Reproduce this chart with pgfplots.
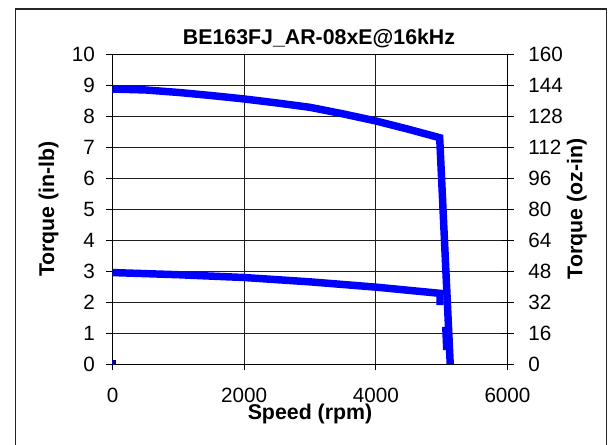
\documentclass[border=0pt]{standalone}
\usepackage{fontspec}
\setmainfont{Liberation Sans}
\usepackage{pgfplots}
\pgfplotsset{compat=1.18}
\definecolor{gridc}{RGB}{30,30,30}
\definecolor{curve}{RGB}{0,0,255}
\definecolor{dotc}{RGB}{0,0,140}
\begin{document}
\begin{tikzpicture}
\path[use as bounding box] (-84.375pt,-60pt) rectangle (371.625pt,273pt);
\draw[line width=0.9pt, black!85] (-72.7pt,-80pt) rectangle (370.4pt,266.25pt);
\pgfplotsset{
  base/.style={
    at={(0pt,0pt)}, anchor=south west,
    scale only axis, width=296.25pt, height=232.5pt,
    xmin=0, xmax=6000,
    /pgf/number format/assume math mode=true,
    /pgf/number format/1000 sep={},
    scaled ticks=false,
    ticklabel style={font=\fontsize{15.5}{18}\selectfont, inner sep=0pt},
    axis line style={black, line width=0.75pt},
    tick style={black, line width=0.75pt},
  }
}
\begin{axis}[base,
  ymin=0, ymax=10,
  xtick={0,2000,4000,6000}, ytick={0,1,...,10},
  xtick pos=bottom, ytick pos=left,
  tick align=outside, major tick length=4.5pt,
  grid=major, grid style={gridc, line width=0.7pt},
  xticklabel style={anchor=north}, xticklabel shift=13.5pt,
  yticklabel style={anchor=east}, yticklabel shift=8.5pt,
  title={BE163FJ\_AR-08xE@16kHz},
  every axis title/.style={at={(axis description cs:0.5,1)}, xshift=6.75pt, yshift=12pt, anchor=center, font=\bfseries\fontsize{16}{19}\selectfont},
  xlabel={Speed (rpm)},
  every axis x label/.style={at={(axis description cs:0.5,0)}, yshift=-37.5pt, anchor=center, font=\bfseries\fontsize{16}{19}\selectfont},
  ylabel={Torque (in-lb)},
  every axis y label/.style={at={(axis description cs:0,0.5)}, xshift=-48pt, rotate=90, anchor=center, font=\bfseries\fontsize{16}{19}\selectfont},
]
\addplot[curve, line width=5.6pt] coordinates {
(0,8.87) (500,8.84) (1000,8.76) (1500,8.66) (2000,8.55) (2500,8.42) (3000,8.28) (3500,8.07) (4000,7.84) (4500,7.57) (4970,7.30) (5130,0)
};
\addplot[curve, line width=5.6pt] coordinates {
(0,2.95) (1000,2.88) (2000,2.79) (3000,2.65) (4000,2.48) (4975,2.28) (4975,1.9)
};
\addplot[curve, line width=2.4pt] coordinates {
(5030,1.2) (5045,0.45)
};
\addplot[only marks, mark=square*, mark size=1.3pt, color=dotc] coordinates {(23,0.05)};
\end{axis}
\begin{axis}[base,
  ymin=0, ymax=160,
  ytick={0,16,...,160},
  axis y line*=right, axis x line=none,
  tick align=center, major tick length=10pt,
  yticklabel style={anchor=west}, yticklabel shift=10.5pt,
  ylabel={Torque (oz-in)},
  every axis y label/.style={at={(axis description cs:1,0.5)}, xshift=52.1pt, rotate=90, anchor=center, font=\bfseries\fontsize{16}{19}\selectfont},
]
\end{axis}
\end{tikzpicture}
\end{document}
